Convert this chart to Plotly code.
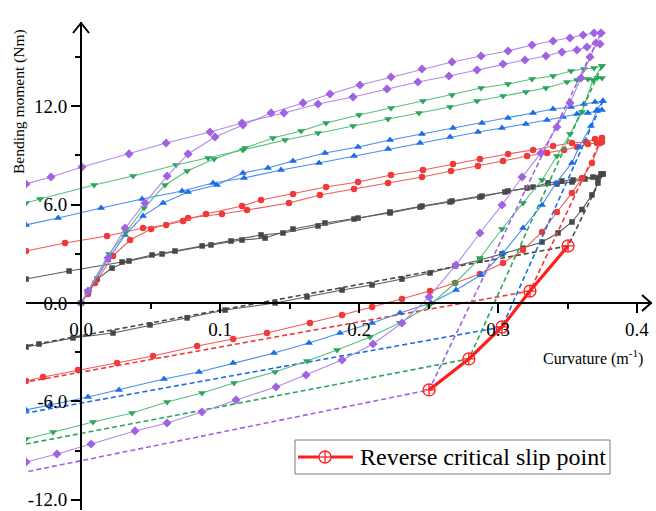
import plotly.graph_objects as go

# ---------------- data (curvature m^-1, bending moment Nm) ----------------
grey_load = [(0,0),(0.005,0.67),(0.0115,1.46),(0.0223,2.13),(0.0345,2.56),(0.0583,2.99),(0.0935,3.54),(0.1158,3.84),(0.1324,3.96),(0.1525,4.51),(0.1755,4.88),(0.1993,5.18),(0.2223,5.49),(0.2439,5.85),(0.2655,6.16),(0.287,6.46),(0.305,6.77),(0.3209,7.01),(0.3424,7.26),(0.3532,7.38),(0.3626,7.56),(0.3719,7.62),(0.3755,7.87)]
grey_reload = [(-0.0396,1.46),(-0.0086,1.95),(0.0295,2.50),(0.0511,2.93),(0.0676,3.17),(0.0871,3.48),(0.1079,3.78),(0.1295,4.15),(0.1453,4.27),(0.1705,4.70),(0.1964,5.12),(0.2223,5.55),(0.2453,5.91),(0.2669,6.22),(0.2885,6.52),(0.3072,6.83),(0.3252,7.07),(0.336,7.32),(0.346,7.44),(0.354,7.50),(0.3612,7.62),(0.3683,7.68),(0.3741,7.87)]
grey_unload = [(0.3755,7.87),(0.3719,7.32),(0.3676,6.59),(0.3604,5.7),(0.3532,4.94),(0.3432,4.27),(0.3317,3.72),(0.318,3.35),(0.3029,2.99),(0.287,2.62),(0.2691,2.26),(0.2511,1.83),(0.2309,1.46),(0.2094,1.10),(0.1878,0.79),(0.1626,0.37),(0.1396,0.0),(0.1036,-0.43),(0.0763,-0.91),(0.0496,-1.34),(0.023,-1.83),(-0.0058,-2.13),(-0.0302,-2.50),(-0.0396,-2.68)]
grey_dash = [(0.3755,7.87),(0.3504,3.48),(-0.0396,-2.62)]

red_load = [(0,0),(0.005,0.55),(0.0101,1.22),(0.023,2.87),(0.0353,3.84),(0.0504,4.51),(0.077,5.18),(0.1014,5.43),(0.1194,5.67),(0.1496,6.10),(0.1719,6.59),(0.1964,6.95),(0.2209,7.32),(0.2453,7.68),(0.2662,8.05),(0.2856,8.35),(0.3036,8.66),(0.3209,8.96),(0.3353,9.15),(0.3475,9.33),(0.3568,9.51),(0.3647,9.70),(0.3712,9.76),(0.3748,9.82)]
red_reload = [(-0.0396,3.17),(-0.0115,3.66),(0.0187,4.09),(0.0446,4.57),(0.0612,4.76),(0.0734,5.0),(0.0899,5.43),(0.1158,5.91),(0.1295,6.28),(0.1525,6.65),(0.1763,7.07),(0.1993,7.38),(0.223,7.80),(0.246,8.11),(0.2676,8.48),(0.287,8.78),(0.3072,9.09),(0.3252,9.33),(0.3396,9.57),(0.3532,9.76),(0.3633,9.82),(0.3698,10.0),(0.3748,10.06)]
red_unload = [(0.3748,10.06),(0.3734,9.76),(0.3676,8.54),(0.3604,7.6),(0.3532,6.71),(0.3424,5.55),(0.3317,4.33),(0.318,3.23),(0.3036,2.44),(0.287,1.77),(0.2691,1.22),(0.2511,0.73),(0.2309,0.24),(0.2094,-0.24),(0.1878,-0.73),(0.1647,-1.22),(0.1338,-1.83),(0.1094,-2.20),(0.0835,-2.62),(0.0518,-3.23),(0.0259,-3.66),(-0.0022,-4.09),(-0.0273,-4.51),(-0.0396,-4.76)]
red_dash = [(0.3748,10.06),(0.323,0.73),(-0.0396,-4.82)]

blue_load = [(0,0),(0.005,0.67),(0.019,2.6),(0.0317,4.15),(0.0446,5.30),(0.059,6.10),(0.077,6.77),(0.0978,7.20),(0.1165,7.93),(0.1345,8.23),(0.1525,8.66),(0.1755,9.15),(0.1993,9.51),(0.2223,9.94),(0.2453,10.30),(0.2676,10.67),(0.2885,10.98),(0.3072,11.28),(0.3252,11.59),(0.3396,11.83),(0.3525,11.95),(0.3619,12.13),(0.3698,12.26),(0.3755,12.32)]
blue_reload = [(-0.0396,4.76),(-0.0165,5.18),(0.0144,5.79),(0.0439,6.34),(0.0727,6.83),(0.095,7.32),(0.1173,7.62),(0.1439,8.11),(0.1712,8.54),(0.1964,8.96),(0.2209,9.39),(0.2439,9.76),(0.2655,10.12),(0.2856,10.43),(0.3029,10.67),(0.3201,10.91),(0.3353,11.16),(0.3468,11.34),(0.3568,11.52),(0.3647,11.59),(0.3712,11.71),(0.3748,11.77)]
blue_unload = [(0.3755,12.32),(0.3712,11.77),(0.3669,10.79),(0.3583,9.51),(0.3532,8.54),(0.3417,7.32),(0.3317,5.98),(0.318,4.57),(0.3036,3.05),(0.2878,1.71),(0.2698,0.79),(0.2518,0.0),(0.2295,-0.61),(0.2094,-1.22),(0.1863,-1.83),(0.164,-2.44),(0.1388,-3.05),(0.1094,-3.66),(0.0849,-4.21),(0.0597,-4.63),(0.0273,-5.30),(0.005,-5.73),(-0.0223,-6.22),(-0.0396,-6.52)]
blue_dash = [(0.3755,12.32),(0.3029,-1.46),(-0.0396,-6.71)]

green_load = [(0,0),(0.005,0.73),(0.0201,2.99),(0.0324,4.33),(0.0453,5.79),(0.0604,7.20),(0.0763,8.05),(0.0957,8.78),(0.118,9.45),(0.1381,10.06),(0.1583,10.49),(0.1763,10.98),(0.2,11.46),(0.223,11.89),(0.246,12.32),(0.2669,12.68),(0.2878,13.11),(0.3072,13.35),(0.3245,13.66),(0.3396,13.84),(0.3525,14.15),(0.3619,14.27),(0.3691,14.33),(0.3748,14.45)]
green_reload = [(-0.0396,6.10),(-0.0295,6.34),(0.0094,7.20),(0.0374,7.74),(0.0683,8.41),(0.0914,8.84),(0.1165,9.33),(0.1468,9.94),(0.1705,10.37),(0.1957,10.79),(0.2209,11.22),(0.2432,11.59),(0.2655,11.95),(0.2849,12.32),(0.3036,12.62),(0.3201,12.87),(0.3345,13.11),(0.3496,13.48),(0.3568,13.60),(0.3647,13.66),(0.3712,13.72),(0.3748,13.72)]
green_unload = [(0.3748,14.45),(0.3683,13.60),(0.3604,11.65),(0.3518,10.30),(0.3424,8.96),(0.3317,7.50),(0.318,6.10),(0.3029,4.51),(0.287,2.74),(0.2691,1.22),(0.2504,-0.18),(0.2295,-1.2),(0.2079,-2.07),(0.1842,-2.87),(0.1626,-3.54),(0.1396,-4.21),(0.1101,-4.88),(0.087,-5.49),(0.0619,-6.04),(0.0367,-6.71),(0.0086,-7.26),(-0.0201,-7.87),(-0.0396,-8.29)]
green_dash = [(0.3748,14.45),(0.279,-3.41),(-0.0396,-8.60)]

purple_load = [(0,0),(0.005,0.73),(0.0194,2.74),(0.0317,4.57),(0.046,6.10),(0.0619,7.74),(0.077,9.09),(0.0964,10.12),(0.1165,10.85),(0.1367,11.59),(0.1597,12.20),(0.1791,12.74),(0.2007,13.29),(0.223,13.78),(0.2453,14.27),(0.2669,14.70),(0.2878,15.06),(0.3072,15.37),(0.3245,15.73),(0.3396,15.98),(0.3518,16.16),(0.3612,16.34),(0.3691,16.46),(0.3741,16.46)]
purple_reload = [(-0.0396,7.26),(-0.0216,7.68),(0.0007,8.29),(0.0345,9.09),(0.0612,9.76),(0.0928,10.43),(0.1158,10.98),(0.146,11.59),(0.1705,12.13),(0.1957,12.56),(0.2201,13.05),(0.2424,13.48),(0.2647,13.84),(0.2849,14.21),(0.3036,14.57),(0.3194,14.82),(0.3345,15.06),(0.346,15.30),(0.3568,15.43),(0.364,15.61),(0.3705,15.85),(0.3734,15.79)]
purple_unload = [(0.3741,16.46),(0.3662,15.0),(0.3597,13.72),(0.3518,12.20),(0.3424,10.73),(0.3309,9.15),(0.3173,7.68),(0.3029,5.98),(0.287,4.27),(0.2698,2.32),(0.2504,0.37),(0.2309,-1.22),(0.2101,-2.50),(0.1878,-3.48),(0.1619,-4.39),(0.1403,-5.12),(0.1115,-5.91),(0.087,-6.65),(0.0619,-7.32),(0.0388,-7.80),(0.0072,-8.60),(-0.0173,-9.21),(-0.0396,-9.70)]
purple_dash = [(0.3741,16.46),(0.2504,-5.30),(-0.0396,-10.30)]

slip_x = [0.2504, 0.279, 0.3029, 0.323, 0.3504]
slip_y = [-5.30, -3.41, -1.46, 0.73, 3.48]

x_tick_vals = [0.0, 0.1, 0.2, 0.3, 0.4]
x_tick_text = ["0.0", "0.1", "0.2", "0.3", "0.4"]
y_tick_vals = [-12, -6, 0, 6, 12]
y_tick_text = ["-12.0", "-6.0", "0.0", "6.0", "12.0"]
legend_label = "Reverse critical slip point"

# ---------------- styling ----------------
X_RANGE = [-0.0396, 0.4108]
Y_RANGE = [-12.622, 17.134]
FONT = "Liberation Serif, Times New Roman, serif"
ML, MT, PW, PH = 26, 22, 626, 488  # plot area origin / size in pixels
SLIP_RED = "#ff1e1e"


def px(xp):
    return (xp - ML) / PW


def py(yp):
    return 1 - (yp - MT) / PH


series = [
    ("#474747", "#5a5a5a", "square", 5.5, grey_load, grey_reload, grey_unload, grey_dash),
    ("#f03a3a", "#f25a5a", "circle", 6.5, red_load, red_reload, red_unload, red_dash),
    ("#1a6ce8", "#4a8cf0", "triangle-up", 7, blue_load, blue_reload, blue_unload, blue_dash),
    ("#2aa55a", "#58bf7c", "triangle-down", 7, green_load, green_reload, green_unload, green_dash),
    ("#a062e0", "#b488ea", "diamond", 7, purple_load, purple_reload, purple_unload, purple_dash),
]

fig = go.Figure()

for mcol, lcol, sym, msize, load, reload_, unload, dash in series:
    for curve in (load, reload_, unload):
        fig.add_trace(go.Scatter(
            x=[p[0] for p in curve], y=[p[1] for p in curve],
            mode="lines+markers", showlegend=False, hoverinfo="skip",
            line=dict(color=lcol, width=1.1),
            marker=dict(color=mcol, symbol=sym, size=msize, line=dict(width=0)),
        ))
    fig.add_trace(go.Scatter(
        x=[p[0] for p in dash], y=[p[1] for p in dash],
        mode="lines", showlegend=False, hoverinfo="skip",
        line=dict(color=mcol, width=1.6, dash="5px,3px"),
    ))

fig.add_trace(go.Scatter(
    x=slip_x, y=slip_y, mode="lines+markers",
    name=legend_label, showlegend=False,
    line=dict(color=SLIP_RED, width=3.2),
    marker=dict(symbol="circle-cross-open", size=12, color=SLIP_RED,
                line=dict(width=1.3, color=SLIP_RED)),
))

xpos_frac = (0 - X_RANGE[0]) / (X_RANGE[1] - X_RANGE[0])
ypos_frac = (0 - Y_RANGE[0]) / (Y_RANGE[1] - Y_RANGE[0])

shapes = [
    # arrow heads (open chevrons) at the axis ends
    dict(type="path", xref="paper", yref="paper",
         path=f"M {xpos_frac - 8/PW},{1 - 11/PH} L {xpos_frac},{1 - 1/PH} L {xpos_frac + 8/PW},{1 - 11/PH}",
         line=dict(color="black", width=2)),
    dict(type="path", xref="paper", yref="paper",
         path=f"M {1 - 10/PW},{ypos_frac + 8/PH} L {1 - 1/PW},{ypos_frac} L {1 - 10/PW},{ypos_frac - 8/PH}",
         line=dict(color="black", width=2)),
    # legend box
    dict(type="rect", xref="paper", yref="paper",
         x0=px(295), x1=px(610), y0=py(474), y1=py(440),
         line=dict(color="#7a7a7a", width=1), fillcolor="white", layer="above"),
    dict(type="line", xref="paper", yref="paper",
         x0=px(298), x1=px(353), y0=py(457), y1=py(457),
         line=dict(color=SLIP_RED, width=3.2), layer="above"),
    dict(type="circle", xref="paper", yref="paper",
         x0=px(319), x1=px(331), y0=py(463), y1=py(451),
         line=dict(color=SLIP_RED, width=1.3), fillcolor="white", layer="above"),
    dict(type="line", xref="paper", yref="paper",
         x0=px(325), x1=px(325), y0=py(463), y1=py(451),
         line=dict(color=SLIP_RED, width=1.3), layer="above"),
    dict(type="line", xref="paper", yref="paper",
         x0=px(319), x1=px(331), y0=py(457), y1=py(457),
         line=dict(color=SLIP_RED, width=1.3), layer="above"),
]

fig.update_layout(
    width=656, height=511,
    margin=dict(l=ML, r=656 - ML - PW, t=MT, b=511 - MT - PH),
    paper_bgcolor="white", plot_bgcolor="white",
    font=dict(family=FONT, color="black"),
    showlegend=False,
    xaxis=dict(
        range=X_RANGE, anchor="free", position=ypos_frac,
        showgrid=False, zeroline=False,
        showline=True, linecolor="black", linewidth=2,
        ticks="outside", ticklen=9, tickwidth=2, tickcolor="black",
        tickmode="array", tickvals=x_tick_vals, ticktext=x_tick_text,
        tickfont=dict(family=FONT, size=19, color="black"),
        minor=dict(ticks="outside", ticklen=5, tickwidth=2, tickcolor="black",
                   tickmode="array", tickvals=[0.05, 0.15, 0.25, 0.35]),
    ),
    yaxis=dict(
        range=Y_RANGE, anchor="free", position=xpos_frac,
        showgrid=False, zeroline=False,
        showline=True, linecolor="black", linewidth=2,
        ticks="outside", ticklen=9, tickwidth=2, tickcolor="black",
        tickmode="array", tickvals=y_tick_vals, ticktext=y_tick_text,
        tickfont=dict(family=FONT, size=19, color="black"),
        minor=dict(ticks="outside", ticklen=5, tickwidth=2, tickcolor="black",
                   tickmode="array", tickvals=[-9, -3, 3, 9, 15]),
    ),
    annotations=[
        dict(text="Bending moment (Nm)", xref="paper", yref="paper",
             x=px(19), y=py(102), textangle=-90,
             showarrow=False, font=dict(family=FONT, size=15.5, color="black"),
             xanchor="center", yanchor="middle"),
        dict(text="Curvature (m<sup>-1</sup>)", xref="paper", yref="paper",
             x=px(593), y=py(357),
             showarrow=False, font=dict(family=FONT, size=16, color="black"),
             xanchor="center", yanchor="middle"),
        dict(text=legend_label, xref="paper", yref="paper",
             x=px(358), y=py(457), xanchor="left", yanchor="middle",
             showarrow=False, font=dict(family=FONT, size=24, color="black")),
    ],
    shapes=shapes,
)

fig.write_html("out.html")
